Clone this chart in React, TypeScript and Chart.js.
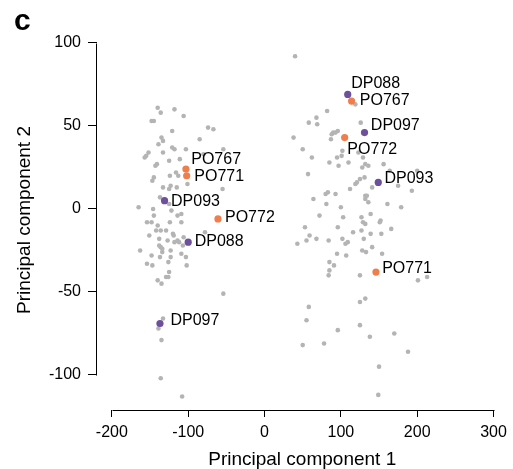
import React, { useEffect, useRef } from "react";
import { Chart, registerables } from "chart.js";

Chart.register(...registerables);

// ---------------- data ----------------
const panelLetter = "c";
const xTitle = "Principal component 1";
const yTitle = "Principal component 2";
const xTicks = [-200, -100, 0, 100, 200, 300];
const yTicks = [-100, -50, 0, 50, 100];

// background samples (grey)
const grayPC1 = [
  -140, -136, -118, -106, -148, -145, -121, -74, -67, -135, -133, -85, -139, -121, -118, -103, -133, -54, -152, -155,
  -157, -125, -111, -80, -141, -143, -124, -116, -113, -145, -147, -101, -133, -123, -125, -115, -55, -137, -165, -146,
  -125, -145, -122, -114, -109, -154, -148, -124, -109, -140, -142, -136, -129, -120, -119, -151, -78, -138, -127, -118,
  -114, -112, -106, -138, -136, -134, -107, -163, -134, -123, -109, -148, -137, -123, -103, -154, -147, -126, -102, -125,
  -129, -126, -140, -135, -54, -133, -139, -135, -136, -108,
  40, 119, 82, 68, 69, 58, 126, 96, 93, 90, 88, 87, 38, 50, 102, 123, 62, 95, 101, 129,
  85, 110, 97, 128, 132, 136, 156, 164, 200, 57, 131, 125, 121, 119, 141, 175, 112, 193, 83, 80,
  93, 132, 134, 132, 64, 136, 81, 100, 161, 179, 72, 103, 127, 139, 129, 132, 152, 151, 53, 96,
  116, 127, 166, 59, 55, 68, 84, 102, 106, 109, 130, 139, 153, 43, 141, 128, 133, 95, 107, 154,
  85, 91, 85, 84, 125, 201, 213, 132, 125, 58, 55, 125, 96, 170, 138, 50, 78, 188, 150, 149,
];
const grayPC2 = [
  61, 58, 60, 56, 53, 53, 47, 49, 48, 43, 41, 42, 39, 37, 36, 36, 34, 36, 34, 32,
  31, 29, 30, 33, 27, 26, 20, 22, 20, 19, 17, 15, 13, 14, 12, 13, 12, 7, 1, 0,
  3, -4, -1, -4, -3, -8, -8, -8, -8, -10, -13, -13, -13, -15, -16, -16, -14, -18, -19, -20,
  -19, -20, -17, -22, -23, -24, -22, -25, -26, -25, -27, -28, -29, -29, -29, -33, -34, -32, -34, -38,
  -41, -41, -43, -45, -51, -66, -72, -79, -102, -113,
  92, 63, 59, 55, 51, 52, 52, 47, 46, 46, 45, 42, 43, 36, 35, 34, 31, 31, 32, 31,
  28, 28, 26, 25, 27, 26, 27, 23, 23, 21, 19, 18, 16, 15, 13, 14, 12, 11, 10, 9,
  9, 8, 8, 6, 6, 4, 3, 1, 3, 1, -4, -5, -5, -3, -8, -9, -7, -8, -11, -11,
  -14, -13, -12, -16, -19, -18, -19, -18, -21, -20, -18, -15, -15, -21, -23, -25, -26, -27, -28, -27,
  -32, -34, -37, -40, -40, -43, -41, -54, -56, -59, -67, -70, -73, -75, -77, -82, -81, -86, -95, -112,
];

// highlighted samples
const sampleNames = ["DP093", "DP088", "DP097", "DP088", "DP097", "DP093", "PO767", "PO771", "PO772", "PO767", "PO772", "PO771"];
const sampleGroup = ["DP", "DP", "DP", "DP", "DP", "DP", "PO", "PO", "PO", "PO", "PO", "PO"];
const samplePC1 = [-131, -100, -137, 109, 131, 149, -103, -102, -61, 114, 105, 146];
const samplePC2 = [5, -20, -69, 69, 46, 16, 24, 20, -6, 65, 43, -38];

// ---------------- styles ----------------
const FONT = "'Liberation Sans', Arial, Helvetica, sans-serif";
const GRAY = "#b4b4b4";
const GROUP_COLORS: Record<string, string> = { DP: "#6d4f9b", PO: "#f07e4c" };
// text offset (px) from point: [dx to text start, dy to text centre]
const labelOffsets: [number, number][] = [
  [6.5, 0], [6.5, -2], [10.5, -4], [3.5, -11.7], [6.3, -7.8], [6.2, -4.5],
  [5.3, -10.4], [7.6, 0], [7, -2.7], [8.3, -1.7], [2.6, 10.8], [6.2, -4.6],
];

const overlayPlugin = {
  id: "overlay",
  afterDraw(chart: any) {
    const ctx = chart.ctx;
    const xs = chart.scales.x;
    const ys = chart.scales.y;
    const area = chart.chartArea;
    ctx.save();
    ctx.strokeStyle = "#000";
    ctx.lineWidth = 1;
    // x axis line
    const yLine = Math.round(area.bottom) + 0.5;
    ctx.beginPath();
    ctx.moveTo(Math.round(xs.getPixelForValue(xTicks[0])) + 0.5, yLine);
    ctx.lineTo(Math.round(xs.getPixelForValue(xTicks[xTicks.length - 1])) + 0.5, yLine);
    ctx.stroke();
    // y axis line
    const xLine = Math.round(area.left) - 0.5;
    ctx.beginPath();
    ctx.moveTo(xLine, Math.round(ys.getPixelForValue(yTicks[0])) + 0.5);
    ctx.lineTo(xLine, Math.round(ys.getPixelForValue(yTicks[yTicks.length - 1])) + 0.5);
    ctx.stroke();

    // panel letter
    ctx.fillStyle = "#000";
    ctx.font = `bold 30px ${FONT}`;
    ctx.textBaseline = "alphabetic";
    ctx.textAlign = "left";
    ctx.fillText(panelLetter, 14, 30);

    // sample labels
    ctx.font = `16px ${FONT}`;
    ctx.textBaseline = "middle";
    const meta = chart.getDatasetMeta(0);
    meta.data.forEach((pt: any, i: number) => {
      const [dx, dy] = labelOffsets[i];
      ctx.fillText(sampleNames[i], pt.x + dx, pt.y + dy + 1);
    });
    ctx.restore();
  },
};

export default function App() {
  const ref = useRef<HTMLCanvasElement | null>(null);
  useEffect(() => {
    document.body.style.margin = "0";
    Chart.defaults.font.family = FONT;
    const grayData = grayPC1.map((x, i) => ({ x, y: grayPC2[i] }));
    const hiData = samplePC1.map((x, i) => ({ x, y: samplePC2[i] }));
    const chart = new Chart(ref.current!, {
      type: "scatter",
      data: {
        datasets: [
          {
            data: hiData,
            pointRadius: 3.6,
            pointBackgroundColor: sampleGroup.map((g) => GROUP_COLORS[g]),
            pointBorderWidth: 0,
            clip: false,
            order: 0,
          } as any,
          {
            data: grayData,
            pointRadius: 2.3,
            pointBackgroundColor: GRAY,
            pointBorderWidth: 0,
            clip: false,
            order: 1,
          } as any,
        ],
      },
      options: {
        responsive: false,
        animation: false,
        events: [],
        layout: { padding: { top: 30, right: 3, left: 0, bottom: 0 } },
        plugins: { legend: { display: false }, tooltip: { enabled: false } },
        scales: {
          x: {
            type: "linear",
            min: -219.5,
            max: 318.2,
            afterFit: (s: any) => {
              s.height = 59;
            },
            afterBuildTicks: (s: any) => {
              s.ticks = xTicks.map((v) => ({ value: v }));
            },
            grid: { display: true, drawOnChartArea: false, drawTicks: true, tickLength: 7, color: "#000", lineWidth: 1 },
            border: { display: false },
            ticks: { color: "#000", font: { size: 16 }, padding: 6, maxRotation: 0, callback: (v: any) => String(v) },
            title: { display: true, text: xTitle, color: "#000", font: { size: 19, lineHeight: 1 }, padding: { top: 0, bottom: 0 } },
          },
          y: {
            type: "linear",
            min: -121.1,
            max: 107.8,
            afterFit: (s: any) => {
              s.width = 97;
            },
            afterBuildTicks: (s: any) => {
              s.ticks = yTicks.map((v) => ({ value: v }));
            },
            grid: { display: true, drawOnChartArea: false, drawTicks: true, tickLength: 9, color: "#000", lineWidth: 1 },
            border: { display: false },
            ticks: { color: "#000", font: { size: 16 }, padding: 7, callback: (v: any) => String(v) },
            title: { display: true, text: yTitle, color: "#000", font: { size: 19, lineHeight: 1 }, padding: { top: 15, bottom: 0 } },
          },
        },
      },
      plugins: [overlayPlugin],
    });
    return () => chart.destroy();
  }, []);
  return <canvas ref={ref} width={513} height={469} style={{ display: "block" }} />;
}
